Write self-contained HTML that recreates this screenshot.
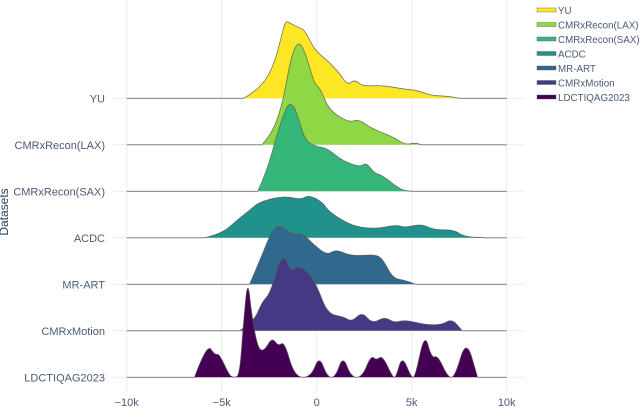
<!DOCTYPE html>
<html><head><meta charset="utf-8">
<style>
body{margin:0;background:#fff;}
svg{display:block;font-family:"Liberation Sans",sans-serif;}
</style></head>
<body>
<svg id="chart" width="640" height="410" viewBox="0 0 640 410"></svg>
<script>
const categories = ["YU","CMRxRecon(LAX)","CMRxRecon(SAX)","ACDC","MR-ART","CMRxMotion","LDCTIQAG2023"];
const colors = ["#fde725","#8fd744","#35b779","#21918c","#31688e","#443983","#440154"];
const xTicks = [-10,-5,0,5,10];
const xTickLabels = ["−10k","−5k","0","5k","10k"];
const yuX = [-3.85,-3.1,-2.35,-1.9,-1.65,-1.4,-0.85,-0.63,-0.1,0.56,1.2,1.63,2.0,2.39,3.46,4.65,5.3,5.94,6.9,7.55];
const yuY = [0,8,28,58,78,75,70,68,48,38,25,13,19,12,13,9,8,3,2,0];
const laxX = [-2.88,-2.35,-1.8,-1.37,-0.99,-0.62,-0.13,0.17,0.67,1.74,2.17,2.92,4.0,4.65,5.2,5.5];
const laxY = [0,11,41,86,104,94,61,57,34,22,26,16,8,0,2,0];
const saxX = [-3.1,-2.66,-2.02,-1.6,-1.37,-1.08,-0.63,-0.08,0.56,1.31,2.28,2.6,3.03,3.46,4.43,5.07];
const saxY = [0,18,61,84,88,81,51,45,43,31,24,29,18,16,1,0];
const acdcX = [-5.9,-5.0,-4.17,-3.5,-3.0,-1.7,-0.85,-0.4,0.34,0.56,1.2,2.06,3.14,4.2,4.65,5.5,6.15,7.23,7.76,9.0];
const acdcY = [0,4,18,28,36,42,38,43,35,28,19,11,9,13,10,14,8,8,1,0];
const mrartX = [-3.53,-2.88,-2.35,-1.9,-1.27,-0.73,-0.19,0.56,0.99,1.85,3.03,3.46,4.0,4.65,5.2];
const mrartY = [0,29,54,60,49,51,40,29,35,28,30,26,6,4,0];
const motionX = [-4.06,-3.3,-2.88,-2.45,-1.8,-1.37,-1.05,-0.63,0,0.56,1.42,1.85,2.39,2.92,3.57,4.1,4.65,5.72,6.58,7.12,7.66];
const motionY = [0,9,29,37,79,59,64,62,46,17,14,9,19,7,14,8,11,6,6,12,0];
const ldctX = [-6.43,-5.78,-5.35,-5.14,-4.6,-4.39,-4.06,-3.85,-3.63,-3.42,-3.1,-2.77,-2.35,-2.02,-1.7,-1.16,-0.3,0.13,0.56,0.99,1.38,1.81,2.39,2.86,3.14,3.46,4.0,4.17,4.5,4.97,5.18,5.68,6.05,6.37,6.9,7.27,7.87,8.47];
const ldctY = [0,34,22,24,2,0,1,56,99,62,29,26,40,31,36,0,0,22,0,0,22,0,0,22,17,22,0,0,22,0,0,45,19,22,0,0,39,0];
const seriesX = [yuX,laxX,saxX,acdcX,mrartX,motionX,ldctX];
const seriesY = [yuY,laxY,saxY,acdcY,mrartY,motionY,ldctY];

const NS = "http://www.w3.org/2000/svg";
const svg = document.getElementById("chart");
const xMin=-10,xMax=10,pxL=126.7,pxR=506.7;
function xS(v){return pxL+(v-xMin)/(xMax-xMin)*(pxR-pxL);}
const base0=98.3,rowGap=46.5;
function baseY(i){return base0+i*rowGap;}
function yS(i,d){return baseY(i)-d;}
function mk(tag,attrs){const e=document.createElementNS(NS,tag);for(const k in attrs)e.setAttribute(k,attrs[k]);svg.appendChild(e);return e;}

xTicks.forEach((t,i)=>{
  const g=mk("line",{x1:xS(t),x2:xS(t),y1:0,y2:392,stroke:"#ebebeb","stroke-width":1});
  
  
  const tx=mk("text",{x:xS(t),y:406,"text-anchor":"middle","font-size":"11",fill:"#4a5a78"});
  tx.textContent=xTickLabels[i];
  
  
});
categories.forEach((c,i)=>{
  const g=mk("line",{x1:112,x2:525,y1:baseY(i),y2:baseY(i),stroke:"#ebebeb","stroke-width":1});
  
  
});
function smoothPath(i){
  const xs=seriesX[i],ys=seriesY[i];
  const pts=xs.map((x,k)=>[xS(x),yS(i,ys[k])]);
  let d="M"+xS(xMin)+","+baseY(i)+" L"+pts[0][0]+","+pts[0][1];
  for(let k=1;k<pts.length-1;k++){
    const mx=(pts[k][0]+pts[k+1][0])/2,my=(pts[k][1]+pts[k+1][1])/2;
    d+=" Q"+pts[k][0]+","+pts[k][1]+" "+mx+","+my;
  }
  const L=pts[pts.length-1];
  d+=" L"+L[0]+","+L[1]+" L"+xS(xMax)+","+baseY(i);
  return d;
}
categories.forEach((c,i)=>{
  const p=mk("path",{d:smoothPath(i)+" Z",fill:colors[i],stroke:"none"});
  
  
  const o=mk("path",{d:smoothPath(i),fill:"none",stroke:"#555","stroke-width":0.8,"stroke-opacity":0.8});
  
  
  const t=mk("text",{x:105,y:baseY(i)+4,"text-anchor":"end","font-size":"11",fill:"#4a5a78"});
  t.textContent=c;
  
  
});
const yt=mk("text",{x:8,y:212,"text-anchor":"middle","font-size":"12",fill:"#2a3f5f",transform:"rotate(-90 8 212)"});
yt.textContent="Datasets";


categories.forEach((c,i)=>{
  const y=10+i*14.5;
  const r=mk("rect",{x:537,y:y-2,width:19,height:4,fill:colors[i],stroke:"#555","stroke-width":0.4});
  
  
  const t=mk("text",{x:558,y:y+4,"font-size":"9.8",fill:"#4a5a78"});
  t.textContent=c;
  
  
});
</script>
</body></html>
